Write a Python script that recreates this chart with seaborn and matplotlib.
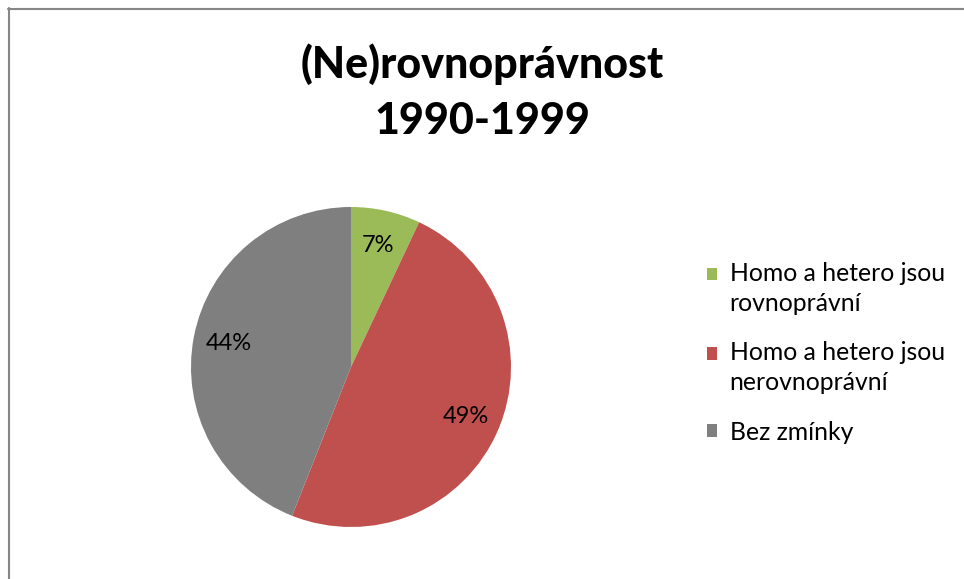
import matplotlib
matplotlib.use("Agg")
import matplotlib.pyplot as plt
from matplotlib.lines import Line2D
from matplotlib.patches import Patch, Rectangle
from matplotlib.legend_handler import HandlerPatch
import seaborn as sns

# data
categories = ["Homo a hetero jsou\nrovnoprávní",
              "Homo a hetero jsou\nnerovnoprávní",
              "Bez zmínky"]
shares = [7, 49, 44]
colors = ["#9BBB59", "#C0504D", "#7F7F7F"]
title = "(Ne)rovnoprávnost\n1990-1999"

sns.set_theme(style="white")
plt.rcParams["font.family"] = ["Lato", "DejaVu Sans"]
plt.rcParams["text.color"] = "black"

fig = plt.figure(figsize=(9.64, 5.79), dpi=100)
W, H = 964, 579

# pie axes placed so that the circle sits where the reference has it
cx, cy, r = 351, 367, 160
ax = fig.add_axes([(cx - r) / W, (H - cy - r) / H, 2 * r / W, 2 * r / H])
wedges, texts, autotexts = ax.pie(
    shares, colors=colors, startangle=90, counterclock=False,
    autopct="%1.0f%%", pctdistance=0.78, radius=1,
    wedgeprops=dict(linewidth=0),
    textprops=dict(fontsize=17, color="black"))
ax.set_xlim(-1, 1)
ax.set_ylim(-1, 1)
ax.set_aspect("equal")
ax.axis("off")

fig.text(482 / W, 1 - 92 / H, title, ha="center", va="center",
         fontsize=31, fontweight="black", linespacing=1.47, color="black")

# legend squares sit beside the first line of each (possibly wrapped) label
n_lines = {}


def first_line_square(legend, orig_handle, xdescent, ydescent, width, height, fontsize):
    shift = 0.6 * fontsize * (n_lines[id(orig_handle)] - 1)
    return Rectangle((-xdescent, -ydescent + shift), width, height)


handles = []
for c, lab in zip(colors, categories):
    h = Patch(facecolor=c, edgecolor="none")
    n_lines[id(h)] = lab.count("\n") + 1
    handles.append(h)

leg = fig.legend(handles, categories, loc="upper left",
                 bbox_to_anchor=(697 / W, 1 - 252 / H), frameon=False,
                 fontsize=17.8, handlelength=0.42, handleheight=0.42,
                 handletextpad=0.5, labelspacing=1.08, borderaxespad=0,
                 handler_map={Patch: HandlerPatch(patch_func=first_line_square)})
for t in leg.get_texts():
    t.set_linespacing(1.35)
    t.set_color("black")

# chart-area border: only top and left edges are visible in the reference
fig.add_artist(Line2D([8 / W, 1], [1 - 8.5 / H, 1 - 8.5 / H],
                      transform=fig.transFigure, color="#868686", lw=1.5))
fig.add_artist(Line2D([8.5 / W, 8.5 / W], [0, 1 - 8 / H],
                      transform=fig.transFigure, color="#868686", lw=1.5))

fig.savefig("out.png", dpi=100, facecolor="white")
